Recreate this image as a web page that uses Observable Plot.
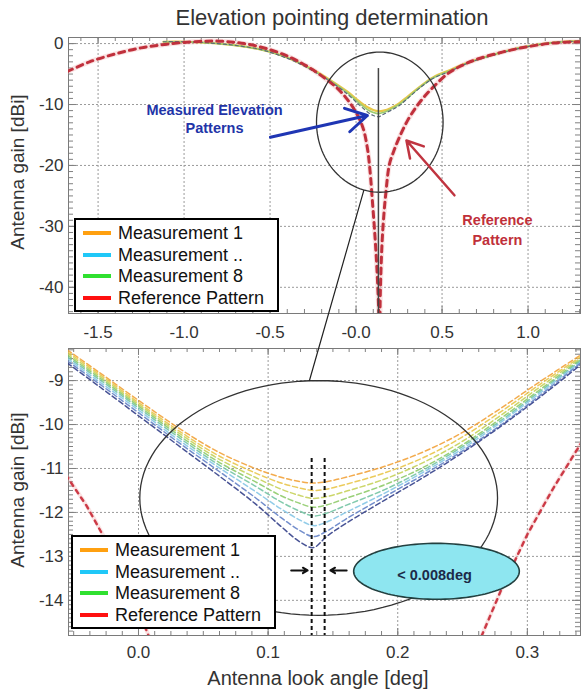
<!DOCTYPE html>
<html><head><meta charset="utf-8">
<script src="https://cdn.jsdelivr.net/npm/d3@7"></script>
<script src="https://cdn.jsdelivr.net/npm/@observablehq/plot@0.6"></script>
<style>
body{margin:0;background:#fff;font-family:"Liberation Sans",Arial,sans-serif;}
#wrap{position:relative;width:584px;height:691px;overflow:hidden;background:#fff;}
.abs{position:absolute;}
.title{left:80px;top:4px;width:504px;text-align:center;font-size:22px;color:#333;line-height:28px;}
.ytitle{font-size:19px;color:#333;white-space:nowrap;transform:translate(-50%,-50%) rotate(-90deg);line-height:22px;}
.xtitle{font-size:20px;color:#333;white-space:nowrap;transform:translate(-50%,-50%);line-height:24px;}
.legend{background:#fff;border:2px solid #000;box-sizing:border-box;z-index:5;}
.legend .row{position:absolute;left:0;height:22px;width:100%;}
.legend .sw{position:absolute;left:7px;top:9px;width:28px;height:4px;}
.legend .tx{position:absolute;left:42px;top:0;font-size:18px;line-height:22px;color:#111;white-space:nowrap;}
</style></head>
<body><div id="wrap"></div>
<script>
// ---------- tick definitions ----------
const topXTicks = [-1.5, -1.0, -0.5, 0, 0.5, 1.0];
const topXLabels = ["-1.5", "-1.0", "-0.5", "-0.0", "0.5", "1.0"];
const topYTicks = [0, -10, -20, -30, -40];
const topYLabels = ["0", "-10", "-20", "-30", "-40"];
const botXTicks = [0, 0.1, 0.2, 0.3];
const botXLabels = ["0.0", "0.1", "0.2", "0.3"];
const botYTicks = [-9, -10, -11, -12, -13, -14];
const botYLabels = ["-9", "-10", "-11", "-12", "-13", "-14"];

// ---------- legend ----------
const legendNames = ["Measurement 1", "Measurement ..", "Measurement 8", "Reference Pattern"];
const legendColors = ["#ffa010", "#20c8f8", "#30e030", "#ff1010"];

// ---------- top panel data (overview) ----------
const refTopX = [-1.68, -1.55, -1.4, -1.25, -1.1, -0.95, -0.8, -0.65, -0.5, -0.38, -0.28, -0.2, -0.11, -0.05, 0.0, 0.04, 0.065, 0.08, 0.098, 0.112, 0.124, 0.132, 0.137,
                 0.141, 0.151, 0.162, 0.173, 0.194, 0.22, 0.25, 0.3, 0.35, 0.4, 0.45, 0.53, 0.6, 0.7, 0.85, 1.0, 1.15, 1.31];
const refTopY = [-4.6, -3.0, -1.7, -0.7, -0.1, 0.3, 0.4, 0.0, -1.0, -2.3, -3.8, -5.3, -7.3, -9.2, -11.3, -13.8, -17.0, -20.5, -27.0, -32.5, -38.5, -44.0, -48.0,
                 -41.0, -32.8, -28.0, -24.6, -19.8, -17.6, -15.5, -12.6, -10.4, -8.6, -7.1, -5.0, -3.8, -2.6, -1.4, -0.5, 0.1, 0.3];
const measTopX = [-1.12, -1.0, -0.85, -0.7, -0.55, -0.45, -0.35, -0.25, -0.15, -0.05, 0.02, 0.07, 0.1, 0.13, 0.16, 0.2, 0.25, 0.3, 0.37, 0.45, 0.55, 0.65, 0.8, 0.95, 1.1, 1.2, 1.31];
const measTopA = [0.3, 0.3, 0.1, -0.3, -1.0, -1.8, -2.9, -4.3, -6.0, -7.9, -9.5, -10.5, -10.9, -11.1, -11.0, -10.6, -9.8, -8.7, -7.1, -5.5, -4.3, -3.1, -1.8, -0.7, 0.0, 0.3, 0.4];
const measTopB = [0.3, 0.3, 0.1, -0.3, -1.0, -1.8, -2.9, -4.4, -6.1, -8.1, -9.8, -10.9, -11.3, -11.5, -11.3, -10.8, -10.0, -8.9, -7.2, -5.6, -4.4, -3.2, -1.8, -0.7, 0.0, 0.3, 0.4];
const measTopC = [0.3, 0.3, 0.1, -0.3, -1.0, -1.9, -3.0, -4.5, -6.2, -8.3, -10.1, -11.3, -11.8, -12.0, -11.6, -11.0, -10.2, -9.0, -7.3, -5.7, -4.5, -3.2, -1.9, -0.8, 0.0, 0.3, 0.4];

// ---------- bottom panel data (zoom) ----------
const botX = [-0.055, -0.03, 0.0, 0.03, 0.06, 0.09, 0.11, 0.125, 0.135, 0.145, 0.16, 0.19, 0.22, 0.25, 0.28, 0.31, 0.342];
const meas1 = [-8.30, -8.82, -9.45, -10.06, -10.60, -11.00, -11.20, -11.30, -11.33, -11.30, -11.20, -10.95, -10.62, -10.18, -9.62, -9.02, -8.40];
const meas2 = [-8.34, -8.86, -9.50, -10.12, -10.68, -11.10, -11.33, -11.45, -11.50, -11.47, -11.36, -11.10, -10.75, -10.28, -9.70, -9.08, -8.44];
const meas3 = [-8.38, -8.90, -9.54, -10.17, -10.75, -11.20, -11.47, -11.62, -11.68, -11.64, -11.52, -11.24, -10.86, -10.38, -9.78, -9.14, -8.47];
const meas4 = [-8.42, -8.94, -9.58, -10.22, -10.82, -11.30, -11.62, -11.80, -11.88, -11.83, -11.68, -11.37, -10.97, -10.46, -9.85, -9.20, -8.50];
const meas5 = [-8.46, -8.98, -9.62, -10.27, -10.88, -11.40, -11.76, -11.98, -12.08, -12.02, -11.84, -11.48, -11.03, -10.50, -9.90, -9.24, -8.53];
const meas6 = [-8.50, -9.03, -9.67, -10.33, -10.94, -11.52, -11.92, -12.18, -12.30, -12.22, -12.00, -11.56, -11.08, -10.55, -9.94, -9.28, -8.56];
const meas7 = [-8.55, -9.08, -9.73, -10.39, -11.02, -11.66, -12.12, -12.42, -12.55, -12.43, -12.15, -11.64, -11.14, -10.60, -10.00, -9.33, -8.58];
const meas8 = [-8.60, -9.14, -9.80, -10.46, -11.12, -11.80, -12.32, -12.68, -12.80, -12.55, -12.25, -11.72, -11.20, -10.64, -10.03, -9.37, -8.62];
const measColors = ["#f2a23a", "#e9c54a", "#c6d25a", "#8fcb6a", "#74c4a4", "#86c6e6", "#6482c6", "#34408a"];
const refBotX = [-0.056, -0.04, -0.025, -0.01, 0.0, 0.012, null, 0.262, 0.28, 0.3, 0.32, 0.343];
const refBotY = [-11.15, -11.85, -12.65, -13.6, -14.25, -15.1, null, -15.0, -13.75, -12.5, -11.45, -10.35];

// ---------- annotations ----------
const topEllipse = {cx: 0.138, cy: -12.9, rx: 0.368, ry: 11.5};
const botEllipse = {cx: 0.139, cy: -11.67, rx: 0.138, ry: 2.67};
const noteEllipse = {cx: 0.2299, cy: -13.34, rx: 0.0639, ry: 0.636};
const pointingLine = [{x: 0.13, y1: -4.1, y2: -44.3}];
const connector = [{x: 0.045, y: -24.1}, {x: -0.271, y: -55.3}];
const blueArrow = [{x1: -0.498, y1: -15.36, x2: 0.066, y2: -11.8}];
const redArrow = [{x1: 0.572, y1: -24.9, x2: 0.293, y2: -15.9}];
const measLabel = [{x: -0.823, y: -10.98, t: "Measured Elevation"}, {x: -0.823, y: -13.94, t: "Patterns"}];
const refLabel = [{x: 0.822, y: -29.03, t: "Reference"}, {x: 0.822, y: -32.3, t: "Pattern"}];
const boundLines = [{x: 0.1336, y1: -10.77, y2: -14.8}, {x: 0.1436, y1: -10.77, y2: -14.8}];
const gapArrows = [{x1: 0.1178, x2: 0.1305, y: -13.32}, {x1: 0.1606, x2: 0.148, y: -13.32}];
const noteLabel = [{x: 0.2284, y: -13.44, t: "< 0.008deg"}];

// ---------- helpers ----------
function ellipsePts(e) {
  return d3.range(0, 361, 3).map(a => ({x: e.cx + e.rx * Math.cos(a * Math.PI / 180), y: e.cy + e.ry * Math.sin(a * Math.PI / 180)}));
}
function zip(xs, ys) { return xs.map((x, i) => ({x, y: ys[i]})); }
function lookup(ticks, labels) { return d => { const i = ticks.findIndex(t => Math.abs(t - d) < 1e-9); return i >= 0 ? labels[i] : ""; }; }
function frameTicks(xMinor, xMajor, yMinor, yMajor, fw, fh) {
  const c = "#808080";
  return [
    Plot.ruleX(xMinor, {stroke: c, insetTop: fh - 4}),
    Plot.ruleX(xMinor, {stroke: c, insetBottom: fh - 4}),
    Plot.ruleX(xMajor, {stroke: c, insetTop: fh - 7}),
    Plot.ruleX(xMajor, {stroke: c, insetBottom: fh - 7}),
    Plot.ruleY(yMinor, {stroke: c, insetRight: fw - 5}),
    Plot.ruleY(yMinor, {stroke: c, insetLeft: fw - 5}),
    Plot.ruleY(yMajor, {stroke: c, insetRight: fw - 8}),
    Plot.ruleY(yMajor, {stroke: c, insetLeft: fw - 8})
  ];
}
const plotStyle = {fontSize: "17px", fontFamily: "'Liberation Sans', Arial, sans-serif", color: "#333", background: "transparent", overflow: "visible"};

// ---------- top plot ----------
const W = 584;
const topH = 340, topMT = 37, topMB = 27, ML = 68, MR = 4;
const topFW = W - ML - MR, topFH = topH - topMT - topMB;
const redHalo = {stroke: "#f2b0b0", strokeWidth: 5, strokeOpacity: 0.35, clip: true, curve: "catmull-rom"};
const topPlot = Plot.plot({
  width: W, height: topH, marginTop: topMT, marginBottom: topMB, marginLeft: ML, marginRight: MR,
  x: {domain: [-1.672, 1.305], ticks: topXTicks, tickFormat: lookup(topXTicks, topXLabels), tickSize: 0, tickPadding: 12, label: null},
  y: {domain: [-44.3, 1.0], ticks: topYTicks, tickFormat: lookup(topYTicks, topYLabels), tickSize: 0, tickPadding: 5, label: null},
  style: plotStyle,
  marks: [
    Plot.ruleX(topXTicks, {stroke: "#9a9a9a", strokeDasharray: "2,2"}),
    Plot.ruleY(topYTicks, {stroke: "#9a9a9a", strokeDasharray: "2,2"}),
    ...frameTicks(d3.range(-1.6, 1.31, 0.1), topXTicks, d3.range(-44, 1.01, 1), topYTicks, topFW, topFH),
    Plot.frame({stroke: "#7a7a7a"}),
    Plot.line(zip(refTopX, refTopY), {x: "x", y: "y", ...redHalo}),
    Plot.line(zip(measTopX, measTopA), {x: "x", y: "y", stroke: "#e8c84a", strokeWidth: 2.2, curve: "catmull-rom", clip: true}),
    Plot.line(zip(measTopX, measTopB), {x: "x", y: "y", stroke: "#9ccc70", strokeWidth: 1.6, curve: "catmull-rom", clip: true}),
    Plot.line(zip(measTopX, measTopC), {x: "x", y: "y", stroke: "#5a6a78", strokeWidth: 1.2, strokeDasharray: "3,3", curve: "catmull-rom", clip: true}),
    Plot.line(zip(refTopX, refTopY), {x: "x", y: "y", stroke: "#c0303c", strokeWidth: 3, strokeDasharray: "6,5", curve: "catmull-rom", clip: true}),
    Plot.line(ellipsePts(topEllipse), {x: "x", y: "y", stroke: "#333", strokeWidth: 1.3}),
    Plot.ruleX(pointingLine, {x: "x", y1: "y1", y2: "y2", stroke: "#444", strokeWidth: 1.5}),
    Plot.arrow(blueArrow, {x1: "x1", y1: "y1", x2: "x2", y2: "y2", stroke: "#1f36b4", strokeWidth: 3, headLength: 12}),
    Plot.arrow(redArrow, {x1: "x1", y1: "y1", x2: "x2", y2: "y2", stroke: "#c03440", strokeWidth: 2.5, headLength: 11}),
    Plot.text(measLabel, {x: "x", y: "y", text: "t", fill: "#2234a8", fontWeight: "bold", fontSize: 14.5}),
    Plot.text(refLabel, {x: "x", y: "y", text: "t", fill: "#c0303a", fontWeight: "bold", fontSize: 14.5}),
    Plot.line(connector, {x: "x", y: "y", stroke: "#222", strokeWidth: 1.2})
  ]
});

// ---------- bottom plot ----------
const botTop = 340, botH = 351, botMT = 8, botMB = 56;
const botFW = W - ML - MR, botFH = botH - botMT - botMB;
const measSeries = [meas1, meas2, meas3, meas4, meas5, meas6, meas7, meas8];
const botPlot = Plot.plot({
  width: W, height: botH, marginTop: botMT, marginBottom: botMB, marginLeft: ML, marginRight: MR,
  x: {domain: [-0.054, 0.341], ticks: botXTicks, tickFormat: lookup(botXTicks, botXLabels), tickSize: 0, tickPadding: 10, label: null},
  y: {domain: [-14.8, -8.27], ticks: botYTicks, tickFormat: lookup(botYTicks, botYLabels), tickSize: 0, tickPadding: 5, label: null},
  style: plotStyle,
  marks: [
    Plot.ruleX(botXTicks, {stroke: "#9a9a9a", strokeDasharray: "2,2"}),
    Plot.ruleY(botYTicks, {stroke: "#9a9a9a", strokeDasharray: "2,2"}),
    ...frameTicks(d3.range(-0.05, 0.341, 0.0125), botXTicks, d3.range(-14.7, -8.27, 0.1), botYTicks, botFW, botFH),
    Plot.frame({stroke: "#7a7a7a"}),
    ...measSeries.map((s, i) => Plot.line(zip(botX, s), {x: "x", y: "y", stroke: measColors[i], strokeWidth: 1.5, strokeOpacity: 0.9, strokeDasharray: "5,3", curve: "catmull-rom", clip: true})),
    Plot.line(zip(refBotX, refBotY), {x: "x", y: "y", ...redHalo, strokeWidth: 4}),
    Plot.line(zip(refBotX, refBotY), {x: "x", y: "y", stroke: "#cc3a46", strokeWidth: 2.4, strokeDasharray: "4,5", clip: true}),
    Plot.line(ellipsePts(botEllipse), {x: "x", y: "y", stroke: "#333", strokeWidth: 1.3}),
    Plot.ruleX(boundLines, {x: "x", y1: "y1", y2: "y2", stroke: "#111", strokeWidth: 2, strokeDasharray: "4,3"}),
    Plot.arrow(gapArrows, {x1: "x1", y1: "y", x2: "x2", y2: "y", stroke: "#111", strokeWidth: 2, headLength: 8}),
    Plot.line(ellipsePts(noteEllipse), {x: "x", y: "y", stroke: "#234040", strokeWidth: 1.6, fill: "#8ee6f0"}),
    Plot.text(noteLabel, {x: "x", y: "y", text: "t", fill: "#1c2a48", fontWeight: "bold", fontSize: 14.5})
  ]
});

// ---------- assemble ----------
const wrap = document.getElementById("wrap");
function place(el, left, top, z) { el.style.position = "absolute"; el.style.left = left + "px"; el.style.top = top + "px"; if (z != null) el.style.zIndex = z; wrap.appendChild(el); return el; }
place(botPlot, 0, botTop, 1);
place(topPlot, 0, 0, 2);
const t = document.createElement("div"); t.className = "abs title"; t.textContent = "Elevation pointing determination"; t.style.zIndex = 3; wrap.appendChild(t);
function ytitle(cy) { const d = document.createElement("div"); d.className = "abs ytitle"; d.textContent = "Antenna gain [dBi]"; d.style.left = "18px"; d.style.top = cy + "px"; d.style.zIndex = 3; wrap.appendChild(d); }
ytitle(172); ytitle(490);
const xt = document.createElement("div"); xt.className = "abs xtitle"; xt.textContent = "Antenna look angle [deg]"; xt.style.left = "318px"; xt.style.top = "678px"; xt.style.zIndex = 3; wrap.appendChild(xt);
function legend(left, top) {
  const box = document.createElement("div"); box.className = "abs legend";
  box.style.left = left + "px"; box.style.top = top + "px"; box.style.width = "205px"; box.style.height = "94px";
  legendNames.forEach((n, i) => {
    const r = document.createElement("div"); r.className = "row"; r.style.top = (2 + i * 21.5) + "px";
    const s = document.createElement("div"); s.className = "sw"; s.style.background = legendColors[i];
    const tx = document.createElement("div"); tx.className = "tx"; tx.textContent = n;
    r.appendChild(s); r.appendChild(tx); box.appendChild(r);
  });
  wrap.appendChild(box);
}
legend(74, 218);
legend(71, 535);
</script></body></html>
